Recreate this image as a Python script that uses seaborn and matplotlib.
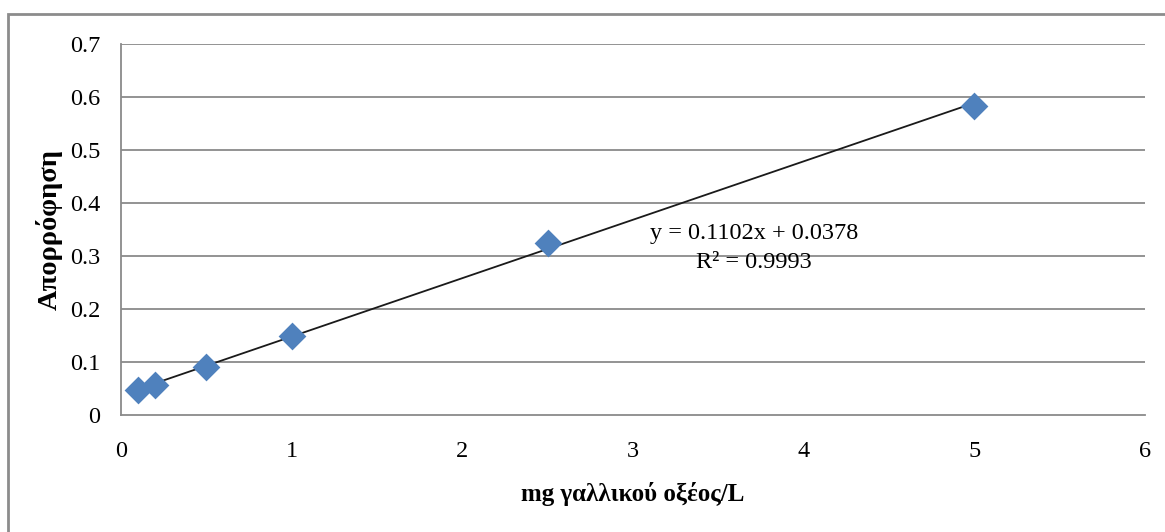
import matplotlib
matplotlib.use("Agg")
import matplotlib.pyplot as plt
import seaborn as sns
import pandas as pd
from matplotlib.patches import Rectangle

# Data
concentration = [0.1, 0.2, 0.5, 1.0, 2.5, 5.0]
absorbance = [0.047, 0.057, 0.091, 0.149, 0.325, 0.583]
slope = 0.1102
intercept = 0.0378
r_squared = 0.9993
x_ticks = [0, 1, 2, 3, 4, 5, 6]
y_ticks = [0, 0.1, 0.2, 0.3, 0.4, 0.5, 0.6, 0.7]
x_label = "mg γαλλικού οξέος/L"
y_label = "Απορρόφηση"

sns.set_style("white")
plt.rcParams['font.family'] = ['Liberation Serif', 'DejaVu Serif']
plt.rcParams['text.color'] = 'black'
plt.rcParams['axes.labelcolor'] = 'black'
plt.rcParams['xtick.color'] = 'black'
plt.rcParams['ytick.color'] = 'black'

df = pd.DataFrame({"x": concentration, "y": absorbance})
trend_x = [min(concentration), max(concentration)]
trend = pd.DataFrame({"x": trend_x, "y": [slope * v + intercept for v in trend_x]})

fig = plt.figure(figsize=(11.65, 5.32), dpi=100)
fig.patch.set_facecolor("white")

# outer chart frame
fig.patches.append(Rectangle((8 / 1165, -0.1), 1.2, 1 - 14 / 532 + 0.1,
                             transform=fig.transFigure, fill=False,
                             edgecolor="#8c8c8c", linewidth=2.0, zorder=0))

ax = fig.add_axes([121 / 1165, 1 - 415 / 532, 1024 / 1165, 371 / 532])

grid_color = "#8a8a8a"
for yv in y_ticks[1:]:
    ax.axhline(yv, color=grid_color, linewidth=1.3, zorder=1)

sns.lineplot(data=trend, x="x", y="y", ax=ax, color="#1a1a1a", linewidth=1.3, zorder=2)
sns.scatterplot(data=df, x="x", y="y", ax=ax, marker="D", s=200, color="#4F81BD",
                edgecolor="#4F81BD", linewidth=0, zorder=3)

ax.set_xlim(0, 6)
ax.set_ylim(0, 0.7)
ax.set_xticks(x_ticks)
ax.set_xticklabels([str(v) for v in x_ticks])
ax.set_yticks(y_ticks)
ax.set_yticklabels(["0"] + [f"{v:.1f}" for v in y_ticks[1:]])
ax.tick_params(axis="both", length=0, labelsize=17.5, colors="#000000")
ax.tick_params(axis="y", pad=15)
ax.tick_params(axis="x", pad=19)

for side in ["top", "right"]:
    ax.spines[side].set_visible(False)
for side in ["left", "bottom"]:
    ax.spines[side].set_color(grid_color)
    ax.spines[side].set_linewidth(1.3)

ax.set_xlabel(x_label, fontsize=18, fontweight="bold", labelpad=14, color="black")
ax.set_ylabel(y_label, fontsize=20.5, fontweight="bold", labelpad=5, color="black")

ax.text(3.71, 0.343, f"y = {slope}x + {intercept}",
        ha="center", va="center", fontsize=17.5, color="black")
ax.text(3.71, 0.288, f"R² = {r_squared}",
        ha="center", va="center", fontsize=17.5, color="black")

fig.savefig("out.png", dpi=100)
